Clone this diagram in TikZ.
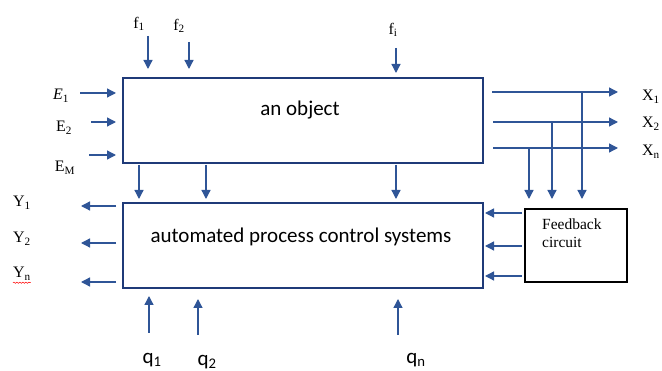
\documentclass[tikz,border=0pt]{standalone}
\usepackage{fontspec}
\setmainfont{Liberation Serif}
\newfontfamily\calfont{Carlito}
\usetikzlibrary{arrows.meta,decorations.pathmorphing}
\definecolor{arr}{HTML}{2F5597}
\definecolor{navy}{HTML}{1F3A78}
\begin{document}
\begin{tikzpicture}[x=1pt,y=-1pt,
  arrow/.style={draw=arr, line width=1.3pt, -{Triangle[length=9pt,width=9pt]}},
  mainbox/.style={draw=navy, line width=1.8pt, minimum width=360pt, minimum height=85pt, anchor=north west, inner sep=0pt},
  fbbox/.style={draw=black, line width=2pt, minimum width=102pt, minimum height=73pt, anchor=north west, inner sep=0pt},
  lab/.style={font=\fontsize{16}{18}\selectfont, inner sep=0pt},
  big/.style={font=\calfont\fontsize{21}{24}\selectfont, inner sep=0pt}]
\useasboundingbox (0,0) rectangle (662,371);
% boxes
\node[mainbox] (obj) at (122,77) {};
\node[mainbox] (acs) at (122,202) {};
\node[fbbox] (fb) at (524,208) {};
\node[big] (objt) at (300,110) {an object};
\node[big] (acst) at (301,237) {automated process control systems};
\node[font=\fontsize{15.5}{18}\selectfont, align=left, anchor=north west, inner sep=0pt] (fbt) at (542,219) {Feedback\\circuit};
% top labels
\node[lab] (f1) at (139,24) {f\textsubscript{1}};
\node[lab] (f2) at (179,26) {f\textsubscript{2}};
\node[lab] (fi) at (393,30) {f\textsubscript{i}};
\coordinate (f1s) at (148,36); \coordinate (f1e) at (148,69);
\coordinate (f2s) at (189,42); \coordinate (f2e) at (189,69);
\coordinate (fis) at (396,48); \coordinate (fie) at (396,73);
\draw[arrow] (f1s) -- (f1e);
\draw[arrow] (f2s) -- (f2e);
\draw[arrow] (fis) -- (fie);
% E inputs
\node[lab] (E1) at (61,96) {\textit{E}\textsubscript{1}};
\node[lab] (E2) at (64,128) {E\textsubscript{2}};
\node[lab] (EM) at (65,168) {E\textsubscript{M}};
\coordinate (e1s) at (80,93); \coordinate (e1e) at (116,93);
\coordinate (e2s) at (91,122); \coordinate (e2e) at (116,122);
\coordinate (e3s) at (89,155); \coordinate (e3e) at (116,155);
\draw[arrow] (e1s) -- (e1e);
\draw[arrow] (e2s) -- (e2e);
\draw[arrow] (e3s) -- (e3e);
% arrows between the boxes
\foreach \x/\n in {139/a,206/b,396/c}{
  \coordinate (m\n s) at (\x,165); \coordinate (m\n e) at (\x,199);
  \draw[arrow] (m\n s) -- (m\n e);
}
% X outputs
\node[lab] (X1) at (651,97) {X\textsubscript{1}};
\node[lab] (X2) at (651,124) {X\textsubscript{2}};
\node[lab] (Xn) at (651,152) {X\textsubscript{n}};
\coordinate (x1s) at (492,92); \coordinate (x1e) at (618,92);
\coordinate (x2s) at (493,122); \coordinate (x2e) at (618,122);
\coordinate (x3s) at (493,148); \coordinate (x3e) at (618,148);
\draw[arrow] (x1s) -- (x1e);
\draw[arrow] (x2s) -- (x2e);
\draw[arrow] (x3s) -- (x3e);
\coordinate (v1s) at (582,92); \coordinate (v1e) at (582,199);
\coordinate (v2s) at (552,122); \coordinate (v2e) at (552,199);
\coordinate (v3s) at (529,148); \coordinate (v3e) at (529,199);
\draw[arrow] (v1s) -- (v1e);
\draw[arrow] (v2s) -- (v2e);
\draw[arrow] (v3s) -- (v3e);
% feedback to control system
\foreach \y/\n in {213/a,246/b,276/c}{
  \coordinate (fb\n s) at (522,\y); \coordinate (fb\n e) at (485,\y);
  \draw[arrow] (fb\n s) -- (fb\n e);
}
% Y outputs
\node[lab] (Y1) at (22,203) {Y\textsubscript{1}};
\node[lab] (Y2) at (22,239) {Y\textsubscript{2}};
\node[lab] (Yn) at (22,274) {Y\textsubscript{n}};
\draw[red, line width=0.5pt, decorate, decoration={snake, amplitude=0.6pt, segment length=3pt}] (Yn.south west) ++(0,2) -- ++(18,0);
\foreach \y/\n in {206/a,243/b,282/c}{
  \coordinate (y\n s) at (116,\y); \coordinate (y\n e) at (81,\y);
  \draw[arrow] (y\n s) -- (y\n e);
}
% q inputs
\node[big] (q1) at (152,360) {q\textsubscript{1}};
\node[big] (q2) at (207,362) {q\textsubscript{2}};
\node[big] (qn) at (416,360) {q\textsubscript{n}};
\coordinate (q1s) at (149,333); \coordinate (q1e) at (149,296);
\coordinate (q2s) at (198,335); \coordinate (q2e) at (198,299);
\coordinate (qns) at (398,335); \coordinate (qne) at (398,299);
\draw[arrow] (q1s) -- (q1e);
\draw[arrow] (q2s) -- (q2e);
\draw[arrow] (qns) -- (qne);
\end{tikzpicture}
\end{document}
